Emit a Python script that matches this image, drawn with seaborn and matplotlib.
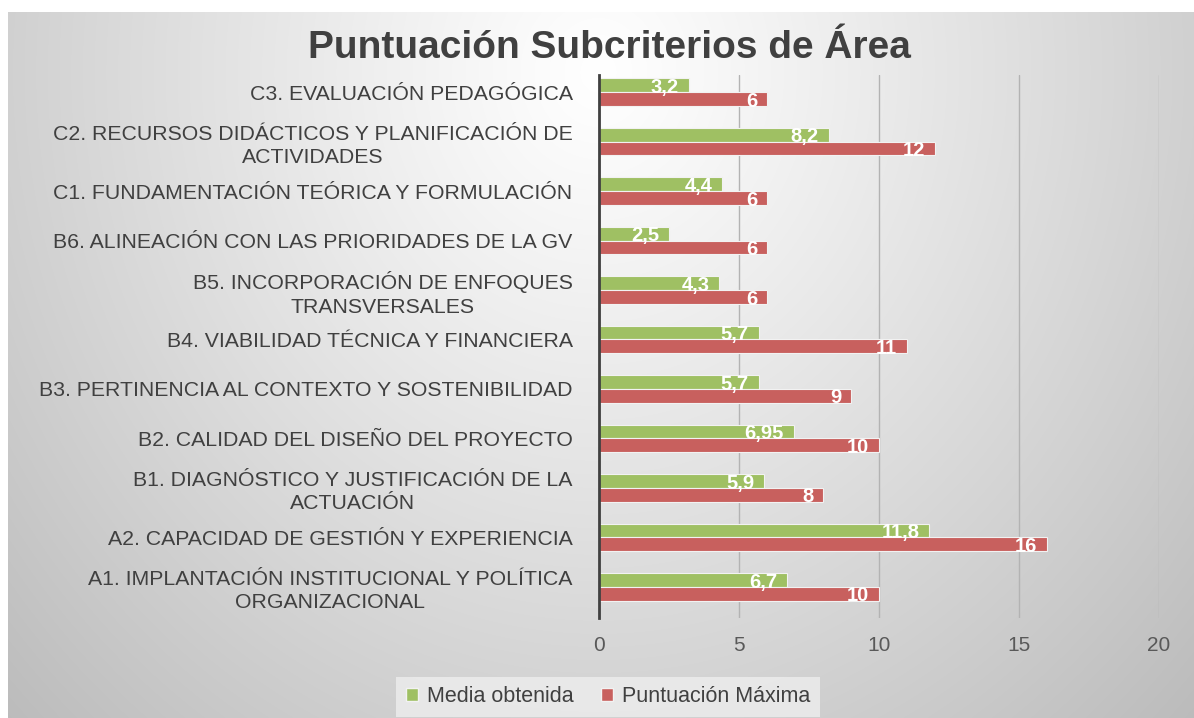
import numpy as np
import pandas as pd
import matplotlib
matplotlib.use('Agg')
import matplotlib.pyplot as plt
from matplotlib.patches import Patch
import seaborn as sns

# chart values, top to bottom as shown
categories = [
    'C3. EVALUACIÓN PEDAGÓGICA',
    'C2. RECURSOS DIDÁCTICOS Y PLANIFICACIÓN DE\nACTIVIDADES',
    'C1. FUNDAMENTACIÓN TEÓRICA Y FORMULACIÓN',
    'B6. ALINEACIÓN CON LAS PRIORIDADES DE LA GV',
    'B5. INCORPORACIÓN DE ENFOQUES\nTRANSVERSALES',
    'B4. VIABILIDAD TÉCNICA Y FINANCIERA',
    'B3. PERTINENCIA AL CONTEXTO Y SOSTENIBILIDAD',
    'B2. CALIDAD DEL DISEÑO DEL PROYECTO',
    'B1. DIAGNÓSTICO Y JUSTIFICACIÓN DE LA\nACTUACIÓN',
    'A2. CAPACIDAD DE GESTIÓN Y EXPERIENCIA',
    'A1. IMPLANTACIÓN INSTITUCIONAL Y POLÍTICA\nORGANIZACIONAL',
]
media = [3.2, 8.2, 4.4, 2.5, 4.3, 5.7, 5.7, 6.95, 5.9, 11.8, 6.7]
maxima = [6, 12, 6, 6, 6, 11, 9, 10, 8, 16, 10]
series_names = ['Media obtenida', 'Puntuación Máxima']
x_ticks = [0, 5, 10, 15, 20]

green = '#9FC063'
red = '#C8605E'

sns.set_style('white')
plt.rcParams['font.family'] = ['Liberation Sans Narrow', 'Liberation Sans', 'DejaVu Sans']

df = pd.DataFrame({
    'Subcriterio': categories * 2,
    'Puntos': media + maxima,
    'Serie': [series_names[0]] * len(categories) + [series_names[1]] * len(categories),
})

fig = plt.figure(figsize=(11.94, 7.18), dpi=100)
fig.patch.set_facecolor('white')

# grey radial background panel
bg = fig.add_axes([8 / 1194, 0, 1 - 8 / 1194, 706 / 718], zorder=-5)
yy, xx = np.mgrid[0:706, 0:1186]
d = np.sqrt(((xx - 590) / 700.0) ** 2 + ((yy - 60) / 780.0) ** 2)
shade = np.clip(255 - 56 * d ** 1.1, 185, 255) / 255.0
bg.imshow(np.dstack([shade] * 3), aspect='auto', interpolation='bilinear')
bg.axis('off')

ax = fig.add_axes([599 / 1194, 100 / 718, 560 / 1194, 543 / 718])
ax.set_facecolor('none')

sns.barplot(data=df, y='Subcriterio', x='Puntos', hue='Serie', order=categories,
            hue_order=series_names, palette=[green, red], saturation=1, width=0.56,
            orient='h', edgecolor='#f2f2f2', linewidth=0.8, ax=ax, legend=False)

# value labels inside the bar ends, white bold
for cont, vals in zip(ax.containers, [media, maxima]):
    labels = [f'{v:g}'.replace('.', ',') for v in vals]
    texts = ax.bar_label(cont, labels=labels, padding=-7, color='white',
                         fontsize=14.5, fontweight='bold')
    for t in texts:
        t.set_ha('right')
        t.set_va('center')
        t.xyann = (t.xyann[0], -1.5)

ax.set_xlim(0, 20)
ax.set_ylim(10 + 31 / 49.4, -17 / 49.4)
ax.set_xticks(x_ticks)
ax.xaxis.grid(True, color='#b3b3b3', linewidth=1)
ax.set_axisbelow(True)
for s in ['top', 'right', 'bottom']:
    ax.spines[s].set_visible(False)
ax.spines['left'].set_color('#404040')
ax.spines['left'].set_linewidth(2)
ax.tick_params(axis='x', length=0, pad=13, labelsize=15, labelcolor='#595959')
ax.tick_params(axis='y', length=0, pad=19, labelsize=15.3, labelcolor='#404040')
for lab in ax.get_yticklabels():
    lab.set_multialignment('center')
    lab.set_linespacing(1.3)
ax.set_xlabel('')
ax.set_ylabel('')

fig.text(609 / 1194, 1 - 48 / 718, 'Puntuación Subcriterios de Área', ha='center', va='center',
         fontsize=28, fontweight='bold', color='#404040')

handles = [Patch(facecolor=green, edgecolor='#f2f2f2'), Patch(facecolor=red, edgecolor='#f2f2f2')]
leg = fig.legend(handles, series_names, loc='center', bbox_to_anchor=(608 / 1194, 1 - 697 / 718),
                 ncol=2, frameon=True, fontsize=15.5, handlelength=0.55, handleheight=0.55,
                 handletextpad=0.4, columnspacing=1.3, borderpad=0.45, borderaxespad=0,
                 fancybox=False)
leg.get_frame().set_facecolor('#ececec')
leg.get_frame().set_edgecolor('none')
leg.get_frame().set_alpha(0.85)
for t in leg.get_texts():
    t.set_color('#404040')

fig.savefig('out.png', dpi=100)
